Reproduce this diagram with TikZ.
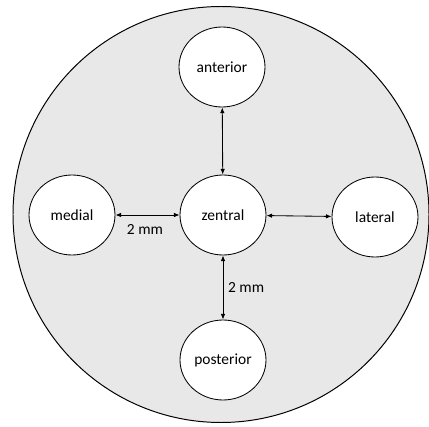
\documentclass[tikz,border=0pt]{standalone}
\usepackage{fontspec}
\setmainfont{Carlito}
\usetikzlibrary{shapes.geometric, arrows.meta}

\tikzset{
	spot/.style={draw, ellipse, fill=white, line width=0.6pt,
		minimum width=86*0.025cm, minimum height=80*0.025cm, inner sep=0pt,
		font=\fontsize{11}{13}\selectfont},
	gap/.style={{Latex[length=1.4mm,width=1.1mm]}-{Latex[length=1.4mm,width=1.1mm]}, line width=0.6pt},
}

\begin{document}
\begin{tikzpicture}[x=0.025cm, y=-0.025cm]
	\useasboundingbox (0,0) rectangle (429,427);
	\draw[fill=black!9, line width=0.7pt] (221,214.5) circle (208);

		%sample spots
	\node[spot] (zentral) at (223,215) {zentral};
	\node[spot] (anterior) at (222,67) {anterior};
	\node[spot] (medial) at (72,215) {medial};
	\node[spot] (lateral) at (375,217) {lateral};
	\node[spot] (posterior) at (223,360) {posterior};

		%distances
	\draw[gap] (anterior) -- (zentral);
	\draw[gap] (medial) -- (zentral);
	\draw[gap] (zentral) -- (lateral);
	\draw[gap] (zentral) -- (posterior)
		node[midway, right, font=\fontsize{11}{13}\selectfont] {2 mm};
	\node[font=\fontsize{11}{13}\selectfont] (mm) at (145,229) {2 mm};
\end{tikzpicture}
\end{document}
